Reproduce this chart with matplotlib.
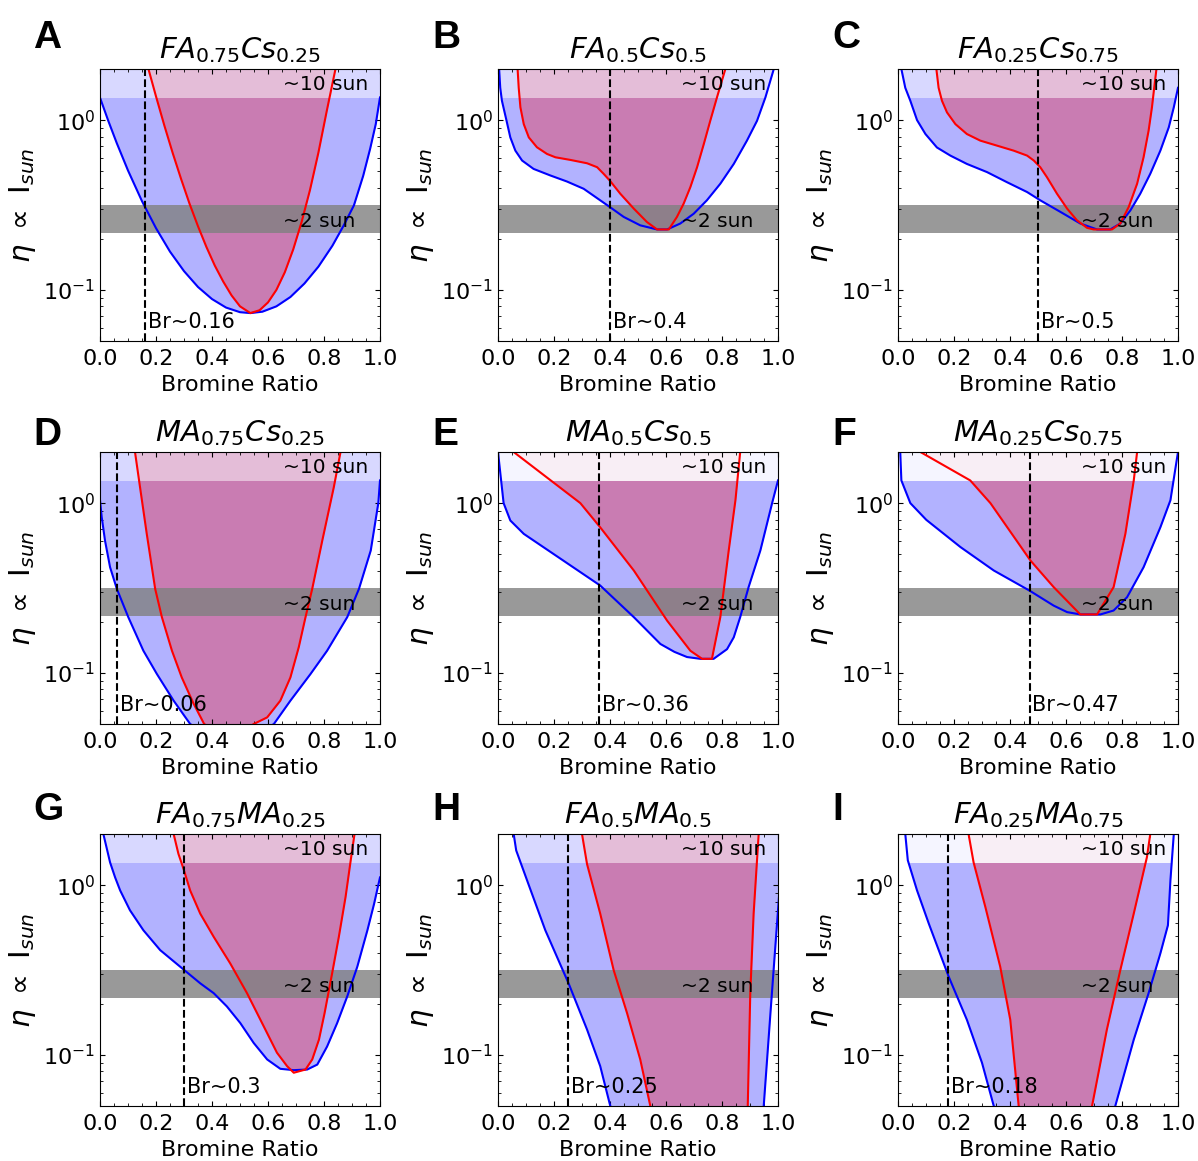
import matplotlib
matplotlib.use('Agg')
import matplotlib.pyplot as plt
from matplotlib.ticker import MultipleLocator, NullFormatter, FormatStrFormatter

# panel A: FA0.75Cs0.25
A_blue_x = [0.0, 0.03, 0.06, 0.10, 0.15, 0.20, 0.25, 0.30, 0.35, 0.40, 0.45, 0.50, 0.537,
            0.58, 0.63, 0.68, 0.73, 0.78, 0.83, 0.87, 0.907, 0.94, 0.965, 0.985, 1.0]
A_blue_y = [1.355, 0.986, 0.731, 0.505, 0.333, 0.231, 0.168, 0.129, 0.104, 0.0883, 0.0787,
            0.0739, 0.073, 0.0744, 0.080, 0.0908, 0.109, 0.137, 0.182, 0.239, 0.315, 0.47,
            0.68, 0.95, 1.36]
A_red_x = [0.173, 0.20, 0.23, 0.26, 0.29, 0.32, 0.35, 0.38, 0.41, 0.44, 0.47, 0.50, 0.537,
           0.57, 0.60, 0.63, 0.66, 0.69, 0.72, 0.75, 0.78, 0.81, 0.841]
A_red_y = [2.0, 1.38, 0.927, 0.637, 0.448, 0.321, 0.237, 0.179, 0.139, 0.112, 0.0927, 0.080,
           0.073, 0.0759, 0.0844, 0.100, 0.127, 0.173, 0.251, 0.388, 0.643, 1.135, 2.0]

# panel B: FA0.5Cs0.5
B_blue_x = [0.004, 0.008, 0.014, 0.030, 0.044, 0.062, 0.086, 0.127, 0.187, 0.246, 0.306,
            0.365, 0.399, 0.449, 0.508, 0.568, 0.604, 0.651, 0.699, 0.746, 0.794, 0.842,
            0.889, 0.925, 0.955, 0.985]
B_blue_y = [2.0, 1.55, 1.30, 1.0, 0.791, 0.661, 0.578, 0.516, 0.472, 0.435, 0.394, 0.337,
            0.308, 0.269, 0.240, 0.227, 0.227, 0.246, 0.281, 0.337, 0.422, 0.552, 0.757,
            0.99, 1.36, 2.0]
B_red_x = [0.070, 0.074, 0.080, 0.092, 0.110, 0.139, 0.175, 0.205, 0.258, 0.318, 0.354,
           0.377, 0.399, 0.437, 0.485, 0.532, 0.568, 0.610, 0.639, 0.663, 0.687, 0.711,
           0.735, 0.758, 0.782, 0.812]
B_red_y = [2.0, 1.55, 1.19, 0.947, 0.791, 0.692, 0.632, 0.604, 0.583, 0.557, 0.528, 0.483,
           0.441, 0.368, 0.301, 0.251, 0.227, 0.227, 0.269, 0.322, 0.403, 0.528, 0.723,
           0.99, 1.36, 2.0]

# panel C: FA0.25Cs0.75
C_blue_x = [0.012, 0.026, 0.044, 0.068, 0.098, 0.139, 0.187, 0.246, 0.318, 0.389, 0.461,
            0.508, 0.580, 0.651, 0.711, 0.758, 0.794, 0.830, 0.865, 0.901, 0.937, 0.967,
            0.985, 1.0]
C_blue_y = [2.0, 1.55, 1.30, 1.0, 0.828, 0.69, 0.618, 0.552, 0.494, 0.431, 0.377, 0.337,
            0.288, 0.246, 0.227, 0.227, 0.246, 0.294, 0.368, 0.483, 0.661, 0.906, 1.19, 1.55]
C_red_x = [0.137, 0.145, 0.157, 0.175, 0.205, 0.246, 0.294, 0.354, 0.413, 0.461, 0.485,
           0.508, 0.532, 0.568, 0.604, 0.639, 0.675, 0.699, 0.764, 0.794, 0.824, 0.854,
           0.877, 0.895, 0.907, 0.915, 0.923]
C_red_y = [2.0, 1.55, 1.30, 1.11, 0.947, 0.828, 0.757, 0.707, 0.661, 0.618, 0.578, 0.528,
           0.461, 0.368, 0.301, 0.257, 0.232, 0.227, 0.227, 0.246, 0.308, 0.422, 0.604,
           0.866, 1.19, 1.55, 2.0]

# panel D: MA0.75Cs0.25
D_blue_x = [0.0, 0.006, 0.018, 0.036, 0.060, 0.101, 0.155, 0.203, 0.263, 0.322, 0.47,
            0.621, 0.680, 0.752, 0.811, 0.883, 0.925, 0.967, 0.994, 1.0]
D_blue_y = [1.04, 0.83, 0.60, 0.419, 0.313, 0.213, 0.135, 0.0986, 0.0686, 0.05, 0.035,
            0.05, 0.0686, 0.0986, 0.135, 0.213, 0.313, 0.526, 1.0, 1.36]
D_red_x = [0.125, 0.143, 0.167, 0.197, 0.221, 0.257, 0.292, 0.334, 0.372, 0.46,
           0.549, 0.597, 0.644, 0.680, 0.710, 0.734, 0.758, 0.794, 0.835, 0.859]
D_red_y = [2.0, 1.24, 0.659, 0.313, 0.213, 0.135, 0.094, 0.066, 0.05, 0.04,
           0.05, 0.0547, 0.0686, 0.094, 0.142, 0.213, 0.313, 0.603, 1.24, 2.0]

# panel E: MA0.5Cs0.5
E_blue_x = [0.0, 0.02, 0.044, 0.092, 0.365, 0.485, 0.580, 0.63, 0.675, 0.723, 0.770, 0.818,
            0.842, 0.865, 0.895, 0.937, 0.979, 1.0]
E_blue_y = [2.0, 1.0, 0.79, 0.659, 0.327, 0.213, 0.148, 0.133, 0.124, 0.121, 0.121, 0.138,
            0.162, 0.213, 0.32, 0.526, 1.0, 1.36]
E_red_x = [0.056, 0.294, 0.365, 0.485, 0.604, 0.687, 0.729, 0.764, 0.794, 0.824, 0.848, 0.865]
E_red_y = [2.0, 1.0, 0.72, 0.401, 0.203, 0.135, 0.121, 0.121, 0.213, 0.526, 1.04, 2.0]

# panel F: MA0.25Cs0.75
F_blue_x = [0.008, 0.012, 0.044, 0.101, 0.223, 0.342, 0.470, 0.556, 0.604, 0.651, 0.723,
            0.770, 0.818, 0.877, 0.937, 0.973, 1.0]
F_blue_y = [2.0, 1.36, 1.0, 0.797, 0.551, 0.401, 0.305, 0.249, 0.228, 0.221, 0.221,
            0.233, 0.279, 0.419, 0.72, 1.04, 2.0]
F_red_x = [0.080, 0.258, 0.330, 0.473, 0.556, 0.651, 0.711, 0.770, 0.812, 0.842, 0.854]
F_red_y = [2.0, 1.36, 1.0, 0.459, 0.320, 0.221, 0.221, 0.320, 0.659, 1.36, 2.0]

# panel G: FA0.75MA0.25
G_blue_x = [0.012, 0.036, 0.054, 0.072, 0.107, 0.155, 0.215, 0.286, 0.358, 0.406, 0.453,
            0.501, 0.549, 0.597, 0.644, 0.692, 0.740, 0.776, 0.811, 0.847, 0.883, 0.919,
            0.955, 0.979, 1.0]
G_blue_y = [2.0, 1.36, 1.11, 0.93, 0.711, 0.542, 0.414, 0.331, 0.264, 0.231, 0.193, 0.154,
            0.1175, 0.094, 0.0828, 0.0813, 0.082, 0.0877, 0.112, 0.154, 0.221, 0.331, 0.542,
            0.777, 1.11]
G_red_x = [0.263, 0.280, 0.298, 0.322, 0.358, 0.406, 0.465, 0.525, 0.585, 0.632, 0.668,
           0.692, 0.734, 0.758, 0.782, 0.802, 0.829, 0.853, 0.877, 0.897, 0.909]
G_red_y = [2.0, 1.53, 1.25, 0.93, 0.679, 0.496, 0.346, 0.231, 0.147, 0.103, 0.0859, 0.0785,
           0.082, 0.094, 0.123, 0.176, 0.302, 0.496, 0.851, 1.46, 2.0]

# panel H: FA0.5MA0.5
H_blue_x = [0.056, 0.065, 0.110, 0.169, 0.252, 0.318, 0.365, 0.401, 0.5, 0.9, 0.949,
            0.973, 1.0, 1.02]
H_blue_y = [2.0, 1.6, 1.0, 0.542, 0.264, 0.141, 0.0859, 0.05, 0.02, 0.02, 0.05,
            0.176, 0.71, 2.0]
H_red_x = [0.300, 0.318, 0.365, 0.413, 0.461, 0.508, 0.544, 0.6, 0.85, 0.892, 0.901,
           0.913, 0.931]
H_red_y = [2.0, 1.33, 0.68, 0.316, 0.176, 0.094, 0.05, 0.02, 0.02, 0.05, 0.231,
           0.68, 2.0]

# panel I: FA0.25MA0.75
I_blue_x = [0.026, 0.035, 0.068, 0.110, 0.181, 0.246, 0.300, 0.342, 0.5, 0.7, 0.776,
            0.842, 0.895, 0.937, 0.964, 0.973, 0.985]
I_blue_y = [2.0, 1.40, 0.93, 0.593, 0.289, 0.161, 0.0898, 0.05, 0.02, 0.02, 0.05,
            0.123, 0.231, 0.396, 0.58, 1.07, 2.0]
I_red_x = [0.252, 0.270, 0.312, 0.365, 0.401, 0.431, 0.55, 0.65, 0.693, 0.746, 0.794,
           0.842, 0.889, 0.901]
I_red_y = [2.0, 1.36, 0.743, 0.331, 0.161, 0.05, 0.02, 0.02, 0.05, 0.141, 0.316,
           0.68, 1.46, 2.0]

letters = ['A', 'B', 'C', 'D', 'E', 'F', 'G', 'H', 'I']
titles = [r'$FA_{0.75}Cs_{0.25}$', r'$FA_{0.5}Cs_{0.5}$', r'$FA_{0.25}Cs_{0.75}$',
          r'$MA_{0.75}Cs_{0.25}$', r'$MA_{0.5}Cs_{0.5}$', r'$MA_{0.25}Cs_{0.75}$',
          r'$FA_{0.75}MA_{0.25}$', r'$FA_{0.5}MA_{0.5}$', r'$FA_{0.25}MA_{0.75}$']
br_ratio = [0.16, 0.4, 0.5, 0.06, 0.36, 0.47, 0.3, 0.25, 0.18]
br_labels = ['Br~0.16', 'Br~0.4', 'Br~0.5', 'Br~0.06', 'Br~0.36', 'Br~0.47',
             'Br~0.3', 'Br~0.25', 'Br~0.18']
blue_curves = [(A_blue_x, A_blue_y), (B_blue_x, B_blue_y), (C_blue_x, C_blue_y),
               (D_blue_x, D_blue_y), (E_blue_x, E_blue_y), (F_blue_x, F_blue_y),
               (G_blue_x, G_blue_y), (H_blue_x, H_blue_y), (I_blue_x, I_blue_y)]
red_curves = [(A_red_x, A_red_y), (B_red_x, B_red_y), (C_red_x, C_red_y),
              (D_red_x, D_red_y), (E_red_x, E_red_y), (F_red_x, F_red_y),
              (G_red_x, G_red_y), (H_red_x, H_red_y), (I_red_x, I_red_y)]
sun10_band = (1.35, 2.0)
sun2_band = (0.217, 0.315)

# how strongly the 10 sun band washes out what is below it
band_alpha = [0.5, 0.5, 0.5, 0.5, 0.88, 0.88, 0.5, 0.5, 0.88]

W, H = 1198, 1161
fig = plt.figure(figsize=(W / 100, H / 100), dpi=100)

col_left = [100, 498, 898]
row_top = [69, 452, 834]
letter_x = [33, 432, 832]
letter_base = [48, 445, 820]
aw, ah = 280, 272

for i in range(9):
    r, c = divmod(i, 3)
    ax = fig.add_axes([col_left[c] / W, 1 - (row_top[r] + ah) / H, aw / W, ah / H])
    bx, by = blue_curves[i]
    rx, ry = red_curves[i]

    ax.fill_between(bx, by, 10, color='blue', alpha=0.3, lw=0)
    ax.fill_between(rx, ry, 10, color='red', alpha=0.3, lw=0)
    ax.axhspan(*sun2_band, color='gray', alpha=0.8, lw=0)
    ax.axhspan(*sun10_band, color='white', alpha=band_alpha[i], lw=0)
    ax.plot(bx, by, color='blue', lw=1.5)
    ax.plot(rx, ry, color='red', lw=1.5)
    ax.axvline(br_ratio[i], color='black', ls='--', lw=1.5)

    ax.text(br_ratio[i] + 0.01, 0.06, br_labels[i], fontsize=15)
    ax.text(0.655, 1.5, '~10 sun', fontsize=14.5)
    ax.text(0.655, 0.235, '~2 sun', fontsize=14.5)

    ax.set_yscale('log')
    ax.set_xlim(0, 1)
    ax.set_ylim(0.05, 2)
    ax.xaxis.set_major_locator(MultipleLocator(0.2))
    ax.xaxis.set_major_formatter(FormatStrFormatter('%.1f'))
    ax.xaxis.set_minor_locator(MultipleLocator(0.05))
    ax.yaxis.set_minor_formatter(NullFormatter())
    ax.tick_params(which='both', direction='in', top=True, right=True, labelsize=16)
    ax.tick_params(axis='x', pad=6)
    ax.set_xlabel('Bromine Ratio', fontsize=16)
    ax.set_ylabel(r'$\eta\ \propto\ \mathrm{I}_{sun}$', fontsize=21)
    ax.set_title(titles[i], fontsize=21, pad=8)

    fig.text(letter_x[c] / W, 1 - letter_base[r] / H, letters[i], fontsize=28,
             fontweight='bold', family='Liberation Sans', va='baseline')

fig.savefig('out.png', dpi=100)
